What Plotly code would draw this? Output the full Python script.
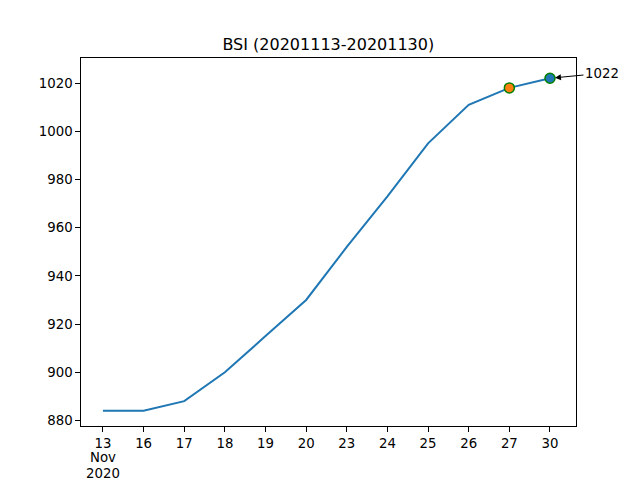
import plotly.graph_objects as go

tick_labels = ["13", "16", "17", "18", "19", "20", "23", "24", "25", "26", "27", "30"]
month_label = "Nov"
year_label = "2020"
values = [884, 884, 888, 900, 915, 930, 952, 973, 995, 1011, 1018, 1022]
y_ticks = [880, 900, 920, 940, 960, 980, 1000, 1020]
highlight_idx = [10, 11]
highlight_colors = ["#ff7f0e", "#1f77b4"]
annot_text = "1022"

x = list(range(len(values)))

fig = go.Figure()
fig.add_trace(go.Scatter(x=x, y=values, mode="lines",
                         line=dict(color="#1f77b4", width=2),
                         showlegend=False, hoverinfo="skip"))
for i, c in zip(highlight_idx, highlight_colors):
    fig.add_trace(go.Scatter(x=[x[i]], y=[values[i]], mode="markers",
                             marker=dict(color=c, size=10,
                                         line=dict(color="#008000", width=1.5)),
                             showlegend=False))

fig.add_annotation(x=x[-1], y=values[-1], xref="x", yref="y",
                   text=annot_text, showarrow=True, arrowhead=2, arrowsize=1.2,
                   arrowwidth=1, arrowcolor="black", ax=52, ay=-5, standoff=5,
                   font=dict(family="DejaVu Sans", size=13.3, color="black"))

plot_h = 480 - 58.3 - 53.7
for txt, ypix in [(month_label, 457.8), (year_label, 473.3)]:
    fig.add_annotation(x=x[0], xref="x", y=-(ypix - 426.3) / plot_h, yref="paper",
                       text=txt, showarrow=False, xanchor="center", yanchor="middle",
                       borderpad=0,
                       font=dict(family="DejaVu Sans", size=13.3, color="black"))

axis_common = dict(showline=True, linecolor="black", linewidth=1, mirror=True,
                   ticks="outside", ticklen=4.7, tickwidth=1, tickcolor="black",
                   showgrid=False, zeroline=False, automargin=False,
                   tickfont=dict(family="DejaVu Sans", size=13.3, color="black"))

fig.update_layout(
    width=640, height=480,
    margin=dict(l=80.7, r=64, t=58.3, b=53.7, autoexpand=False),
    paper_bgcolor="white", plot_bgcolor="white",
    title=dict(text="BSI (20201113-20201130)", x=0.513, xanchor="center",
               y=1 - 44 / 480, yanchor="middle",
               font=dict(family="DejaVu Sans", size=16, color="black")),
    xaxis=dict(range=[-0.54, 11.64], tickmode="array", tickvals=x,
               ticktext=tick_labels, **axis_common),
    yaxis=dict(range=[877.7, 1030.4], tickmode="array", tickvals=y_ticks,
               **axis_common),
    font=dict(family="DejaVu Sans"),
)

fig.write_html("out.html", config={"displayModeBar": False},
               post_script="document.body.style.margin='0';document.body.style.padding='0';")
